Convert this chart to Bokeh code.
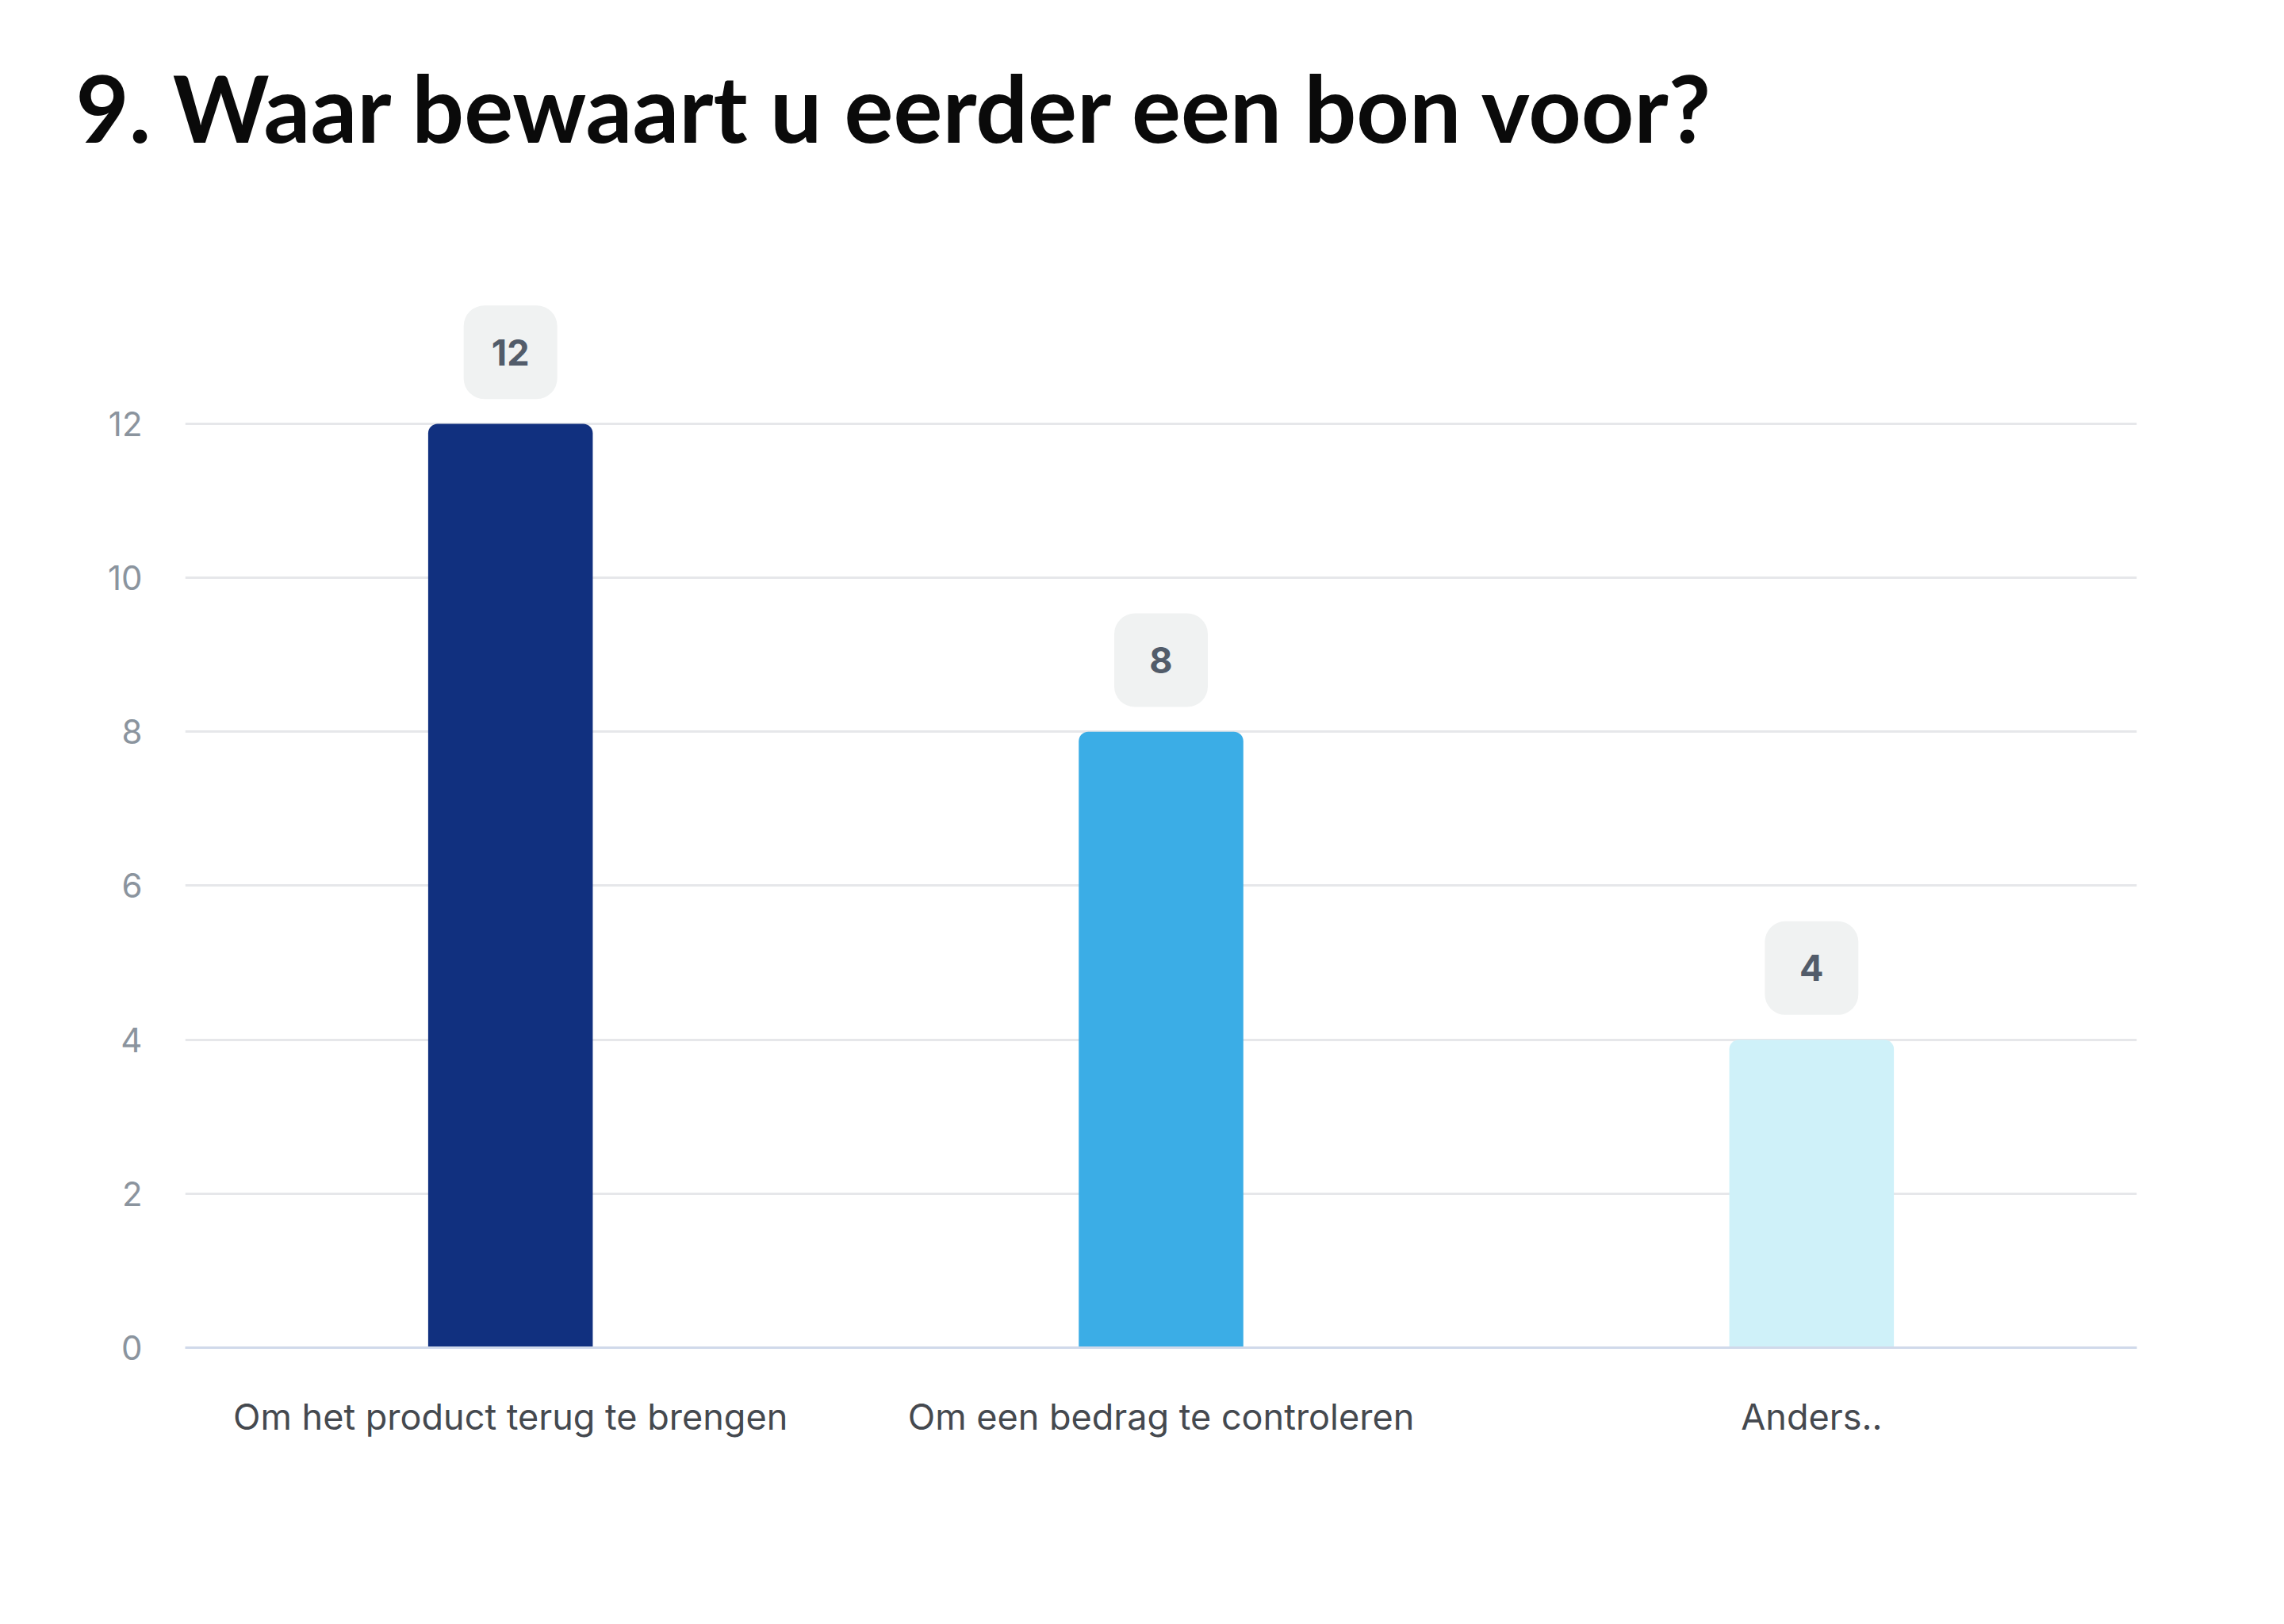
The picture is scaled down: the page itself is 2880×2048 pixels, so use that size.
from bokeh.plotting import figure
from bokeh.models import Range1d, FixedTicker, FactorRange
from bokeh.core.properties import value
from bokeh.embed import file_html
from bokeh.resources import INLINE

title_text = "9. Waar bewaart u eerder een bon voor?"
categories = ["Om het product terug te brengen", "Om een bedrag te controleren", "Anders.."]
counts = [12, 8, 4]
bar_colors = ["#11307f", "#3badE6", "#cff1f9"]
y_ticks = [0, 2, 4, 6, 8, 10, 12]

p = figure(
    width=2864, height=2030,
    x_range=FactorRange(*categories, range_padding=0),
    y_range=Range1d(0, 14.75),
    output_backend="svg", toolbar_location=None,
    min_border_left=233, min_border_right=170,
    min_border_top=10, min_border_bottom=331,
)
p.background_fill_color = "white"
p.border_fill_color = "white"
p.outline_line_color = None

p.title.text = title_text
p.title.text_font = "Lato"
p.title.text_font_style = "bold"
p.title.text_font_size = "116px"
p.title.text_color = "#0a0a0a"
p.title.align = "left"
p.title.offset = -138
p.title.standoff = 126

# bars
p.vbar(x=categories, top=counts, width=0.253, fill_color=bar_colors,
       line_color=None, border_radius=(12, 12, 0, 0))

# value boxes above bars
box_y = [c + 0.93 for c in counts]
p.rect(x=categories, y=box_y, width=118, height=118,
       width_units="screen", height_units="screen",
       fill_color="#f0f2f2", line_color=None, border_radius=26)
p.text(x=categories, y=box_y, text=[str(c) for c in counts],
       text_align="center", text_baseline="middle",
       text_font=value("Inter"), text_font_style="bold",
       text_font_size="45px", text_color="#525c6a")

# grid
p.xgrid.grid_line_color = None
p.ygrid.grid_line_color = "#e6e7ea"
p.ygrid.grid_line_width = 3
p.yaxis.ticker = FixedTicker(ticks=y_ticks)

# y axis
p.yaxis.axis_line_color = None
p.yaxis.major_tick_line_color = None
p.yaxis.minor_tick_line_color = None
p.yaxis.major_label_standoff = 48
p.yaxis.major_label_text_font = "Inter"
p.yaxis.major_label_text_font_size = "42px"
p.yaxis.major_label_text_color = "#8b949e"

# x axis
p.xaxis.axis_line_color = "#d0d9ea"
p.xaxis.axis_line_width = 3
p.xaxis.major_tick_line_color = None
p.xaxis.minor_tick_line_color = None
p.xaxis.major_label_standoff = 53
p.xaxis.major_label_text_font = "Inter"
p.xaxis.major_label_text_font_size = "45px"
p.xaxis.major_label_text_color = "#45494f"

open("out.html", "w").write(file_html(p, INLINE))
